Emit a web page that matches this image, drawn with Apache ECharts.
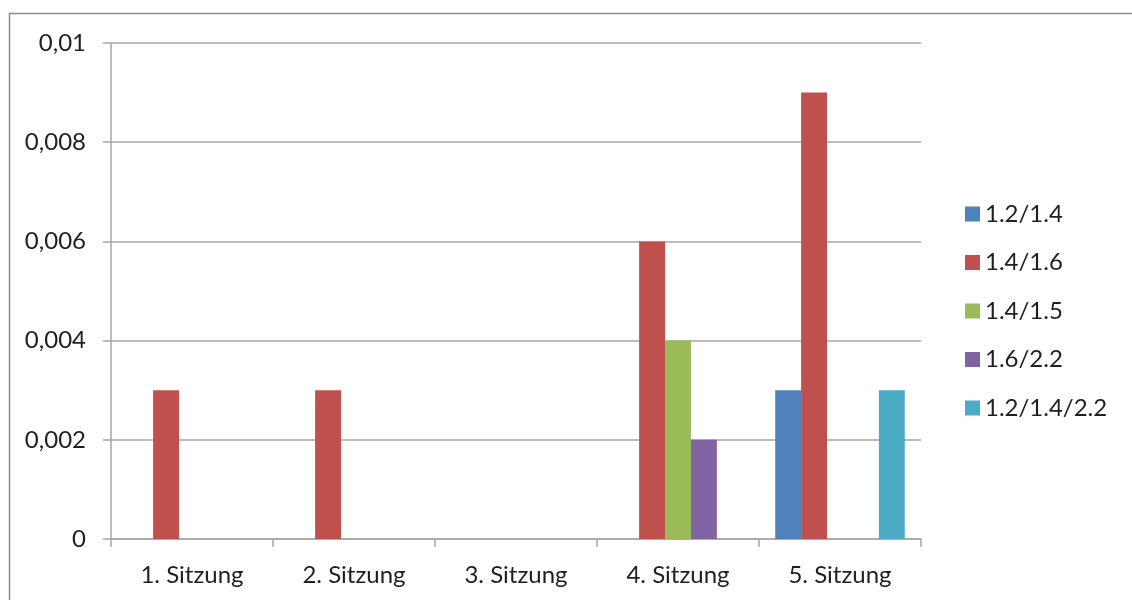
<!DOCTYPE html>
<html>
<head>
<meta charset="utf-8">
<script src="https://cdn.jsdelivr.net/npm/echarts@6/dist/echarts.min.js"></script>
<style>
html,body{margin:0;padding:0;background:#fff;}
#chart{width:1132px;height:600px;}
</style>
</head>
<body>
<div id="chart"></div>
<script>
// Sessions on the x axis
const categories = ['1. Sitzung', '2. Sitzung', '3. Sitzung', '4. Sitzung', '5. Sitzung'];
// Series names and values per session
const seriesNames = ['1.2/1.4', '1.4/1.6', '1.4/1.5', '1.6/2.2', '1.2/1.4/2.2'];
const s12_14 = [0, 0, 0, 0, 0.003];
const s14_16 = [0.003, 0.003, 0, 0.006, 0.009];
const s14_15 = [0, 0, 0, 0.004, 0];
const s16_22 = [0, 0, 0, 0.002, 0];
const s12_14_22 = [0, 0, 0, 0, 0.003];
const yTicks = [0, 0.002, 0.004, 0.006, 0.008, 0.01];

const colors = ['#4F81BD', '#C0504D', '#9BBB59', '#8064A2', '#4BACC6'];
const values = [s12_14, s14_16, s14_15, s16_22, s12_14_22];
const font = 'Lato, "Liberation Sans", sans-serif';
const textColor = '#1f1f1f';
const gray = '#a6a6a6';

const chart = echarts.init(document.getElementById('chart'), null, {renderer: 'canvas'});

const yLabel = v => {
  const i = yTicks.findIndex(t => Math.abs(t - v) < 1e-9);
  if (i < 0) return '';
  return String(yTicks[i]).replace('.', ',');
};

chart.setOption({
  animation: false,
  color: colors,
  grid: {left: 111, right: 211, top: 43, bottom: 61, containLabel: false},
  graphic: [{
    type: 'rect',
    shape: {x: 9.5, y: 13.5, width: 1200, height: 700},
    style: {fill: 'none', stroke: '#8c8c8c', lineWidth: 1.5},
    silent: true
  }],
  legend: {
    orient: 'vertical',
    left: 965,
    top: 202,
    padding: 0,
    itemWidth: 15,
    itemHeight: 15,
    itemGap: 24.5,
    icon: 'rect',
    textStyle: {fontFamily: font, fontSize: 24, lineHeight: 20, color: textColor},
    data: seriesNames
  },
  xAxis: {
    type: 'category',
    data: categories,
    axisLine: {lineStyle: {color: gray, width: 1.5}},
    axisTick: {show: true, length: 8, lineStyle: {color: gray, width: 1.5}},
    axisLabel: {fontFamily: font, fontSize: 24, color: textColor, margin: 24}
  },
  yAxis: {
    type: 'value',
    min: 0,
    max: 0.01,
    interval: 0.002,
    axisLine: {show: true, lineStyle: {color: gray, width: 1.5}},
    axisTick: {show: true, length: 8, lineStyle: {color: gray, width: 1.5}},
    splitLine: {lineStyle: {color: gray, width: 1.5}},
    axisLabel: {fontFamily: font, fontSize: 24, color: textColor, margin: 25, formatter: yLabel}
  },
  series: seriesNames.map((name, i) => ({
    name: name,
    type: 'bar',
    data: values[i],
    barGap: '0%',
    barCategoryGap: '20%',
    itemStyle: {color: colors[i]}
  }))
});
</script>
</body>
</html>
